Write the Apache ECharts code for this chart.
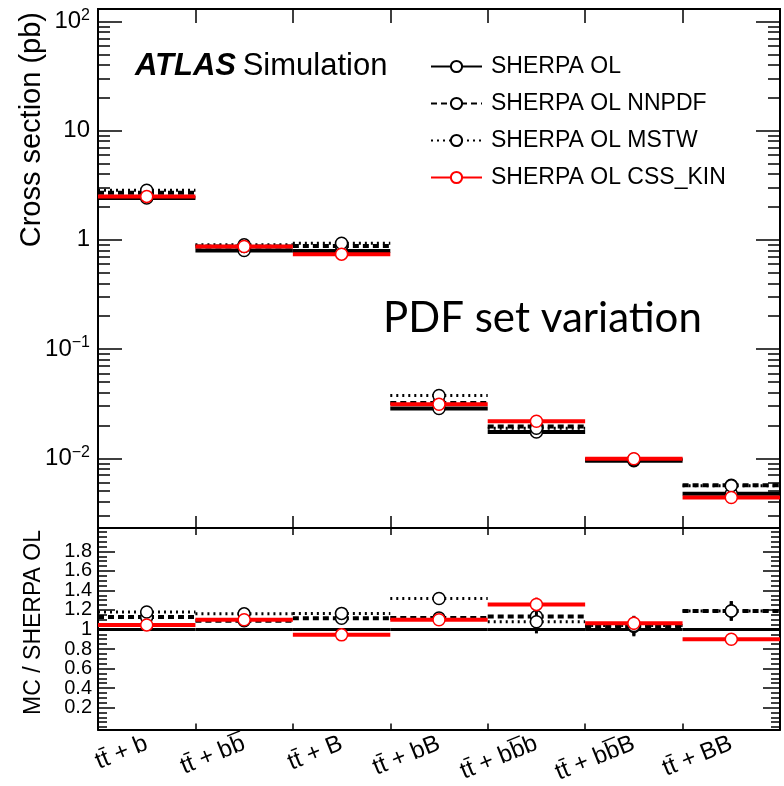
<!DOCTYPE html>
<html>
<head>
<meta charset="utf-8">
<title></title>
<script src="https://cdn.jsdelivr.net/npm/echarts@6/dist/echarts.min.js"></script>
<style>
  html, body { margin: 0; padding: 0; background: #fff; }
</style>
</head>
<body>
<div id="app" style="width: 784px;height: 786px;"></div>
<script type="text/javascript">
// categories (bins)
var cats = ['tt\u0304 + b', 'tt\u0304 + bb\u0305', 'tt\u0304 + B', 'tt\u0304 + bB', 'tt\u0304 + bb\u0305b', 'tt\u0304 + bb\u0305B', 'tt\u0304 + BB'];

// cross sections (pb)
var xsOL     = [2.42, 0.80, 0.79, 0.0286, 0.0174, 0.0095, 0.00474];
var xsNNPDF  = [2.70, 0.87, 0.88, 0.0320, 0.0195, 0.0097, 0.00565];
var xsMSTW   = [2.85, 0.90, 0.93, 0.0376, 0.0188, 0.0098, 0.00560];
var xsCSS    = [2.50, 0.87, 0.74, 0.0313, 0.0218, 0.0099, 0.00437];

// ratio MC / SHERPA OL
var rOL      = [1, 1, 1, 1, 1, 1, 1];
var rNNPDF   = [1.127, 1.09, 1.115, 1.117, 1.133, 1.03, 1.19];
var rMSTW    = [1.18, 1.16, 1.165, 1.317, 1.08, 1.04, 1.19];
var rCSS     = [1.047, 1.10, 0.945, 1.10, 1.257, 1.064, 0.90];
var eNNPDF   = [0, 0, 0, 0, 0.10, 0.10, 0.10];
var eMSTW    = [0, 0, 0, 0, 0.12, 0.10, 0.10];
var eCSS     = [0, 0, 0, 0, 0.07, 0.07, 0.03];

var names = ['SHERPA OL', 'SHERPA OL NNPDF', 'SHERPA OL MSTW', 'SHERPA OL CSS_KIN'];

var FONT = 'Liberation Sans, Arial, DejaVu Sans, sans-serif';

// line styles per sample
var styles = [
  { color: '#000', width: 4, dash: null },
  { color: '#000', width: 4, dash: [6, 4] },
  { color: '#000', width: 3, dash: [2, 4] },
  { color: '#ff0000', width: 4, dash: null }
];

var yMin = 0.0023, yMax = 130;
var rMin = -0.025, rMax = 2.04;

// log minor ticks 2..9 per decade
var logMajor = [0.01, 0.1, 1, 10, 100];
var logMinor = [];
for (var e = -3; e <= 2; e++) {
  for (var k = 2; k <= 9; k++) {
    var v = k * Math.pow(10, e);
    if (v > yMin && v < yMax) logMinor.push(v);
  }
}
var rMajor = [0.2, 0.4, 0.6, 0.8, 1, 1.2, 1.4, 1.6, 1.8];
var rLabA = [0.2, 0.6, 1, 1.4, 1.8];
var rLabB = [0.4, 0.8, 1.2, 1.6];
var rMinor = [];
for (var i = 0; i <= 40; i++) rMinor.push(+(i * 0.05).toFixed(2));

function toData(vals, errs) {
  return vals.map(function (v, i) { return [i, v, errs ? errs[i] : 0]; });
}

function binSeries(vals, errs, st, xi, yi, marker) {
  return {
    type: 'custom',
    xAxisIndex: xi,
    yAxisIndex: yi,
    silent: true,
    data: toData(vals, errs),
    renderItem: function (params, api) {
      var c = api.coord([api.value(0), api.value(1)]);
      var w = api.size([1, 0])[0];
      var err = api.value(2);
      var kids = [{
        type: 'line',
        shape: { x1: c[0] - w / 2, y1: c[1], x2: c[0] + w / 2, y2: c[1] },
        style: { stroke: st.color, lineWidth: st.width, lineDash: st.dash }
      }];
      if (err > 0) {
        var lo = api.coord([api.value(0), api.value(1) - err]);
        var hi = api.coord([api.value(0), api.value(1) + err]);
        kids.push({
          type: 'line',
          shape: { x1: c[0], y1: lo[1], x2: c[0], y2: hi[1] },
          style: { stroke: st.color, lineWidth: 3 }
        });
      }
      if (marker) {
        kids.push({
          type: 'circle',
          shape: { cx: c[0], cy: c[1], r: 6 },
          style: { fill: '#fff', stroke: st.color, lineWidth: 1.5 }
        });
      }
      return { type: 'group', children: kids };
    }
  };
}

function catAxis(grid, pos, len, labels) {
  return {
    type: 'category', gridIndex: grid, position: pos, data: cats, boundaryGap: true,
    axisLine: { show: true, onZero: false, lineStyle: { color: '#000', width: 2 } },
    axisTick: { show: true, inside: true, length: len, lineStyle: { color: '#000', width: 1.5 } },
    axisLabel: labels ? {
      show: true, rotate: 22, fontSize: 24, fontFamily: FONT, color: '#000', margin: 13,
      interval: 0
    } : { show: false },
    splitLine: { show: false }
  };
}

function logAxis(pos, ticks, len, labels) {
  return {
    type: 'log', logBase: 10, gridIndex: 0, position: pos, min: yMin, max: yMax,
    axisLine: { show: true, lineStyle: { color: '#000', width: 2 } },
    axisTick: { show: true, inside: true, length: len, customValues: ticks, lineStyle: { color: '#000', width: 1.5 } },
    axisLabel: labels ? {
      show: true, customValues: logMajor, fontFamily: FONT, color: '#000', margin: 8,
      formatter: function (v) {
        var ex = Math.round(Math.log10(v));
        if (ex === 0) return '{b|1}';
        if (ex === 1) return '{b|10}';
        return '{b|10}{s|' + String(ex).replace('-', '\u2212') + '}';
      },
      rich: {
        b: { fontSize: 24, fontFamily: FONT, color: '#000' },
        s: { fontSize: 16, fontFamily: FONT, color: '#000', padding: [0, 0, 12, 0] }
      }
    } : { show: false },
    splitLine: { show: false }
  };
}

function ratioAxis(pos, ticks, len, labels) {
  return {
    type: 'value', gridIndex: 1, position: pos, min: rMin, max: rMax,
    axisLine: { show: true, onZero: false, lineStyle: { color: '#000', width: 2 } },
    axisTick: { show: true, inside: true, length: len, customValues: ticks, lineStyle: { color: '#000', width: 1.5 } },
    axisLabel: labels ? {
      show: true, customValues: labels, fontSize: 20, fontFamily: FONT, color: '#000', margin: 6,
      formatter: function (v) { return String(+v.toFixed(1)); }
    } : { show: false },
    splitLine: { show: false }
  };
}

var myChart = echarts.init(document.getElementById('app'), null, { renderer: 'canvas' });

var series = [
  binSeries(xsOL, null, styles[0], 0, 0, true),
  binSeries(xsNNPDF, null, styles[1], 0, 0, true),
  binSeries(xsMSTW, null, styles[2], 0, 0, true),
  binSeries(xsCSS, null, styles[3], 0, 0, true),
  binSeries(rOL, null, { color: '#000', width: 3, dash: null }, 2, 4, false),
  binSeries(rNNPDF, eNNPDF, styles[1], 2, 4, true),
  binSeries(rMSTW, eMSTW, styles[2], 2, 4, true),
  binSeries(rCSS, eCSS, styles[3], 2, 4, true)
];
// legend entries
names.forEach(function (n, i) {
  series.push({
    name: n, type: 'line', xAxisIndex: 0, yAxisIndex: 0, data: [],
    symbol: 'circle', symbolSize: 9,
    lineStyle: { color: styles[i].color, width: 3, type: styles[i].dash || 'solid' },
    itemStyle: { color: '#fff', borderColor: styles[i].color, borderWidth: 1.5 }
  });
});

var option = {
  animation: false,
  backgroundColor: '#fff',
  grid: [
    { left: 98, top: 9, width: 682, height: 519 },
    { left: 98, top: 528, width: 682, height: 206 }
  ],
  legend: {
    orient: 'vertical', left: 425, top: 50, itemWidth: 51, itemHeight: 14, itemGap: 14,
    data: names, selectedMode: false,
    textStyle: { fontSize: 23, fontFamily: FONT, color: '#000', lineHeight: 23, padding: [0, 0, 0, 4] }
  },
  xAxis: [
    catAxis(0, 'bottom', 12, false),
    catAxis(0, 'top', 14, false),
    catAxis(1, 'bottom', 6, true),
    catAxis(1, 'top', 7, false)
  ],
  yAxis: [
    logAxis('left', logMajor, 24, true),
    logAxis('left', logMinor, 12, false),
    logAxis('right', logMajor, 24, false),
    logAxis('right', logMinor, 12, false),
    ratioAxis('left', rMajor, 17, rLabA),
    ratioAxis('left', rMinor, 9, rLabB),
    ratioAxis('right', rMajor, 17, null),
    ratioAxis('right', rMinor, 9, null)
  ],
  graphic: [
    {
      type: 'text', x: 32, y: 12, rotation: Math.PI / 2,
      style: { text: 'Cross section (pb)', fontSize: 29, fontFamily: FONT, fill: '#000', align: 'right', verticalAlign: 'middle' }
    },
    {
      type: 'text', x: 34, y: 530, rotation: Math.PI / 2,
      style: { text: 'MC / SHERPA OL', fontSize: 23, fontFamily: FONT, fill: '#000', align: 'right', verticalAlign: 'middle' }
    },
    {
      type: 'text', x: 135, y: 66,
      style: {
        text: '{a|ATLAS}  {b|Simulation}', verticalAlign: 'middle',
        rich: {
          a: { fontSize: 31, fontFamily: FONT, fontWeight: 'bold', fontStyle: 'italic', fill: '#000' },
          b: { fontSize: 31, fontFamily: FONT, fill: '#000' }
        }
      }
    },
    {
      type: 'text', x: 383, y: 318,
      style: { text: 'PDF set variation', fontSize: 42, fontFamily: 'Lato, Open Sans, sans-serif', fill: '#000', verticalAlign: 'middle' }
    }
  ],
  series: series
};

myChart.setOption(option);
</script>
</body>
</html>
